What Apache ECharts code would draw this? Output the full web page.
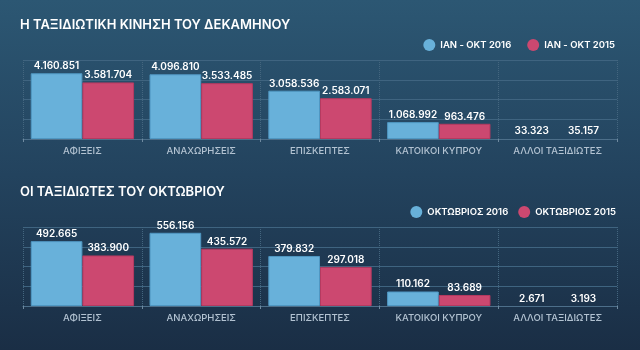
<!DOCTYPE html>
<html><head><meta charset="utf-8">
<script src="https://cdn.jsdelivr.net/npm/echarts@6/dist/echarts.min.js"></script>
<style>
html,body{margin:0;padding:0;}
body{background:linear-gradient(180deg,#2c5773 0%,#23435e 50%,#1a2e45 100%);}
#c{width:640px;height:350px;}
</style></head><body>
<div id="c"></div>
<script>
const categories = ['ΑΦΙΞΕΙΣ','ΑΝΑΧΩΡΗΣΕΙΣ','ΕΠΙΣΚΕΠΤΕΣ','ΚΑΤΟΙΚΟΙ ΚΥΠΡΟΥ','ΑΛΛΟΙ ΤΑΞΙΔΙΩΤΕΣ'];
const title1 = 'Η ΤΑΞΙΔΙΩΤΙΚΗ ΚΙΝΗΣΗ ΤΟΥ ΔΕΚΑΜΗΝΟΥ';
const title2 = 'ΟΙ ΤΑΞΙΔΙΩΤΕΣ ΤΟΥ ΟΚΤΩΒΡΙΟΥ';
const series1Name2016 = 'ΙΑΝ - ΟΚΤ 2016';
const series1Name2015 = 'ΙΑΝ - ΟΚΤ 2015';
const series2Name2016 = 'ΟΚΤΩΒΡΙΟΣ 2016';
const series2Name2015 = 'ΟΚΤΩΒΡΙΟΣ 2015';
const decade2016 = [4160851, 4096810, 3058536, 1068992, 33323];
const decade2015 = [3581704, 3533485, 2583071, 963476, 35157];
const october2016 = [492665, 556156, 379832, 110162, 2671];
const october2015 = [383900, 435572, 297018, 83689, 3193];

const FONT = 'Inter, "Noto Sans", sans-serif';
const BLUE = '#68b1da', BLUE_B = '#4f97c2';
const RED = '#cc4870', RED_B = '#b53a60';
const fmt = v => String(v).replace(/\B(?=(\d{3})+(?!\d))/g, '.');

const chart = echarts.init(document.getElementById('c'), null, {renderer:'canvas'});
function xAx(gi){
  return {type:'category', gridIndex:gi, data:categories,
    axisLine:{lineStyle:{color:'#4d6f8a', width:1}},
    axisTick:{show:true, length:3, interval:0, lineStyle:{color:'#6f8aa0'}},
    axisLabel:{interval:0, color:'#b3c3d2', fontSize:9.5, fontFamily:FONT, fontWeight:500, margin:7},
    splitLine:{show:true, interval:0, lineStyle:{color:'#44667f', type:'dotted', width:1}}};
}
function yAx(gi, max, interval){
  return {type:'value', gridIndex:gi, min:0, max:max, interval:interval,
    axisLabel:{show:false}, axisLine:{show:false},
    axisTick:{show:false},
    splitLine:{lineStyle:{color:'#3f6480', width:1}}};
}
function bar(name, values, max, gi, color, border){
  const data = values.map(v => {
    const tiny = v/max < 0.02;
    return {value:v, itemStyle: tiny ? {borderWidth:0, color:'rgba(0,0,0,0)'} : {borderWidth:1}};
  });
  return {type:'bar', name:name, xAxisIndex:gi, yAxisIndex:gi, data:data,
    barGap:'0%', barCategoryGap:'13%',
    itemStyle:{color:color, borderColor:border, borderWidth:1},
    label:{show:true, position:'top', distance:2, color:'#ffffff', fontSize:10,
      fontWeight:600, fontFamily:FONT, formatter:p=>fmt(p.value)},
    emphasis:{disabled:true}, animation:false};
}
const legendText = {color:'#ffffff', fontSize:9.5, fontWeight:600, fontFamily:FONT};
const legendItem = {borderWidth:0};
chart.setOption({
  animation:false,
  backgroundColor:'transparent',
  title:[
    {text:title1, left:15, top:14, textStyle:{color:'#ffffff', fontSize:13, fontWeight:600, fontFamily:FONT}},
    {text:title2, left:15, top:181, textStyle:{color:'#ffffff', fontSize:13, fontWeight:600, fontFamily:FONT}}
  ],
  legend:[
    {data:[
      {name:series1Name2016, itemStyle:{color:BLUE}},
      {name:series1Name2015, itemStyle:{color:RED}}],
     right:25, top:39, padding:0, icon:'circle', itemWidth:12, itemHeight:12,
     itemGap:16, textStyle:legendText, itemStyle:legendItem, selectedMode:false},
    {data:[
      {name:series2Name2016, itemStyle:{color:BLUE}},
      {name:series2Name2015, itemStyle:{color:RED}}],
     right:24, top:206, padding:0, icon:'circle', itemWidth:12, itemHeight:12,
     itemGap:10, textStyle:legendText, itemStyle:legendItem, selectedMode:false}
  ],
  grid:[
    {left:23, right:23, top:60, height:79},
    {left:23, right:23, top:227, height:79}
  ],
  xAxis:[xAx(0), xAx(1)],
  yAxis:[yAx(0, 5000000, 1250000), yAx(1, 600000, 150000)],
  series:[
    bar(series1Name2016, decade2016, 5000000, 0, BLUE, BLUE_B),
    bar(series1Name2015, decade2015, 5000000, 0, RED, RED_B),
    bar(series2Name2016, october2016, 600000, 1, BLUE, BLUE_B),
    bar(series2Name2015, october2015, 600000, 1, RED, RED_B)
  ]
});
</script>
</body></html>
